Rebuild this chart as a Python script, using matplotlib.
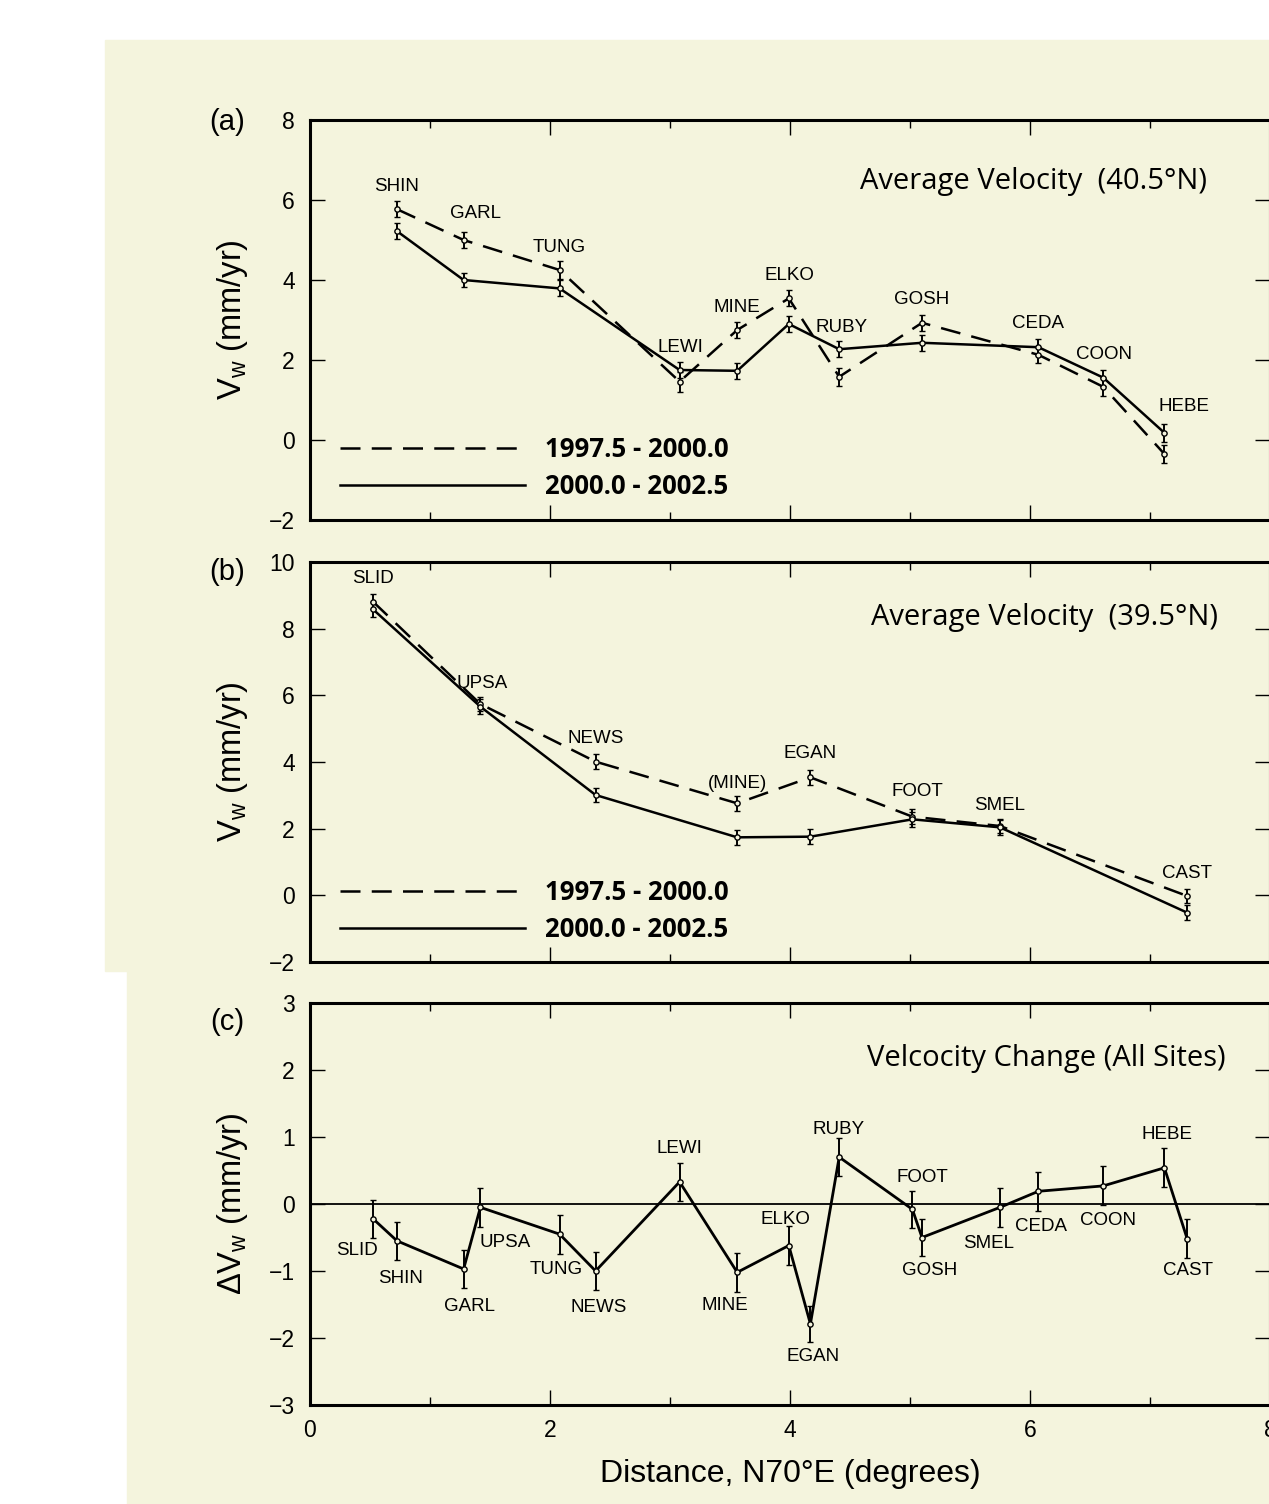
import matplotlib.pyplot as plt
from matplotlib.lines import Line2D
from matplotlib.patches import Rectangle
from matplotlib.ticker import MultipleLocator
import numpy as np

plt.rcParams['font.family'] = ['Liberation Sans', 'DejaVu Sans']
plt.rcParams['mathtext.fontset'] = 'custom'
plt.rcParams['mathtext.rm'] = 'Liberation Sans'
plt.rcParams['mathtext.it'] = 'Liberation Sans:italic'

# ---- panel (a): 40.5N profile ----
sites_a = ['SHIN', 'GARL', 'TUNG', 'LEWI', 'MINE', 'ELKO', 'RUBY', 'GOSH', 'CEDA', 'COON', 'HEBE']
dist_a = [0.725, 1.28, 2.08, 3.08, 3.56, 3.99, 4.41, 5.10, 6.07, 6.61, 7.12]
v1_a = [5.77, 5.00, 4.25, 1.46, 2.75, 3.54, 1.58, 2.93, 2.13, 1.33, -0.35]   # 1997.5-2000.0
v2_a = [5.22, 4.00, 3.79, 1.75, 1.73, 2.90, 2.27, 2.43, 2.32, 1.56, 0.18]    # 2000.0-2002.5
e1_a = [0.20, 0.20, 0.22, 0.25, 0.20, 0.20, 0.22, 0.20, 0.20, 0.22, 0.22]
e2_a = [0.20, 0.18, 0.20, 0.20, 0.20, 0.20, 0.20, 0.20, 0.20, 0.20, 0.22]

# ---- panel (b): 39.5N profile ----
sites_b = ['SLID', 'UPSA', 'NEWS', '(MINE)', 'EGAN', 'FOOT', 'SMEL', 'CAST']
dist_b = [0.525, 1.42, 2.38, 3.56, 4.17, 5.02, 5.75, 7.31]
v1_b = [8.81, 5.74, 4.01, 2.76, 3.54, 2.36, 2.08, -0.02]
v2_b = [8.58, 5.66, 3.01, 1.74, 1.76, 2.28, 2.04, -0.52]
e1_b = [0.22, 0.22, 0.22, 0.22, 0.22, 0.22, 0.22, 0.22]
e2_b = [0.22, 0.22, 0.22, 0.22, 0.22, 0.22, 0.22, 0.22]

# ---- panel (c): velocity change, all sites ----
sites_c = ['SLID', 'SHIN', 'GARL', 'UPSA', 'TUNG', 'NEWS', 'LEWI', 'MINE', 'ELKO',
           'EGAN', 'RUBY', 'FOOT', 'GOSH', 'SMEL', 'CEDA', 'COON', 'HEBE', 'CAST']
dist_c = [0.525, 0.725, 1.28, 1.42, 2.08, 2.38, 3.08, 3.56, 3.99,
          4.17, 4.41, 5.02, 5.10, 5.75, 6.07, 6.61, 7.12, 7.31]
dv_c = [-0.22, -0.55, -0.97, -0.05, -0.45, -1.00, 0.33, -1.02, -0.62,
        -1.79, 0.70, -0.08, -0.50, -0.05, 0.19, 0.27, 0.54, -0.52]
de_c = [0.28, 0.28, 0.29, 0.29, 0.29, 0.29, 0.28, 0.29, 0.29,
        0.27, 0.28, 0.28, 0.28, 0.29, 0.29, 0.29, 0.29, 0.29]

legend_labels = ['1997.5 - 2000.0', '2000.0 - 2002.5']

# label offsets in pixels (layout only)
off_a = [(0, 23), (12, 27), (0, 23), (1, 22), (0, 23), (1, 23), (2, 22), (0, 23), (0, 24), (1, 23), (20, 26)]
off_b = [(0, 23), (2, 20), (0, 23), (0, 20), (0, 24), (5, 25), (0, 21), (0, 22)]
off_c = [(-16, -32), (4, -38), (6, -38), (25, -35), (-3, -35), (3, -36), (0, 33), (-12, -33), (-3, 26),
         (3, -33), (-1, 28), (10, 32), (8, -33), (-11, -36), (3, -35), (5, -35), (3, 33), (1, -32)]

W, H = 1269.0, 1504.0
beige = '#f4f4dd'
LW = 1.8
DASH = (8, 4.5)

fig = plt.figure(figsize=(W / 100, H / 100), dpi=100)
fig.patch.set_facecolor('white')
fig.patches.append(Rectangle((105 / W, 1 - 971 / H), 1 - 105 / W, (971 - 40) / H,
                             transform=fig.transFigure, color=beige, zorder=-10))
fig.patches.append(Rectangle((127 / W, 0), 1 - 127 / W, 1 - 971 / H,
                             transform=fig.transFigure, color=beige, zorder=-10))

ax_a = fig.add_axes([310 / W, 1 - 520 / H, 960 / W, 400 / H])
ax_b = fig.add_axes([310 / W, 1 - 962 / H, 960 / W, 400 / H])
ax_c = fig.add_axes([310 / W, 1 - 1405 / H, 960 / W, 402 / H])


def style(ax, ymin, ymax, ystep):
    ax.set_facecolor('none')
    ax.set_xlim(0, 8)
    ax.set_ylim(ymin, ymax)
    ax.xaxis.set_major_locator(MultipleLocator(2))
    ax.xaxis.set_minor_locator(MultipleLocator(1))
    ax.yaxis.set_major_locator(MultipleLocator(ystep))
    ax.tick_params(which='both', direction='in', top=True, right=True, width=1.0, labelsize=16.5)
    ax.tick_params(axis='y', pad=11)
    ax.tick_params(axis='x', pad=10)
    ax.tick_params(which='major', length=11)
    ax.tick_params(which='minor', length=6)
    for s in ax.spines.values():
        s.set_linewidth(2.2)


def series(ax, x, y, e, dashed):
    if dashed:
        ax.plot(x, y, color='k', lw=LW, dashes=DASH, zorder=2)
    else:
        ax.plot(x, y, color='k', lw=LW, zorder=2)
    ax.errorbar(x, y, yerr=e, fmt='o', color='k', ms=3.8, mfc=beige, mec='k', mew=1.0,
                elinewidth=1.4, capsize=1.9, capthick=1.4, zorder=3)


def labels(ax, names, x, y, offs):
    for n, xi, yi, o in zip(names, x, y, offs):
        ax.annotate(n, (xi, yi), xytext=o, textcoords='offset pixels',
                    ha='center', va='center', fontsize=13.5)


def legend(ax, y0):
    h = [Line2D([], [], color='k', lw=LW, dashes=DASH), Line2D([], [], color='k', lw=LW)]
    ax.legend(h, legend_labels, loc='lower left', bbox_to_anchor=(0.031, y0), frameon=False,
              prop={'family': 'Open Sans', 'weight': 'bold', 'size': 18.5},
              handlelength=7.2, handletextpad=0.78, labelspacing=0.38, borderpad=0, borderaxespad=0)


def ylab(ax, s):
    ax.set_ylabel(s, fontsize=23.5)
    ax.yaxis.set_label_coords(-0.062, 0.5)


# (a)
style(ax_a, -2, 8, 2)
series(ax_a, dist_a, v1_a, e1_a, True)
series(ax_a, dist_a, v2_a, e2_a, False)
labels(ax_a, sites_a, dist_a, np.maximum(v1_a, v2_a), off_a)
legend(ax_a, 0.05)
ax_a.tick_params(labelbottom=False)
ylab(ax_a, r'V$_\mathrm{w}$ (mm/yr)')
ax_a.text(0.934, 0.8475, 'Average Velocity  (40.5°N)', transform=ax_a.transAxes,
          ha='right', va='center', fontsize=21, family='Open Sans')

# (b)
style(ax_b, -2, 10, 2)
series(ax_b, dist_b, v1_b, e1_b, True)
series(ax_b, dist_b, v2_b, e2_b, False)
labels(ax_b, sites_b, dist_b, np.maximum(v1_b, v2_b), off_b)
legend(ax_b, 0.048)
ax_b.tick_params(labelbottom=False)
ylab(ax_b, r'V$_\mathrm{w}$ (mm/yr)')
ax_b.text(0.946, 0.8625, 'Average Velocity  (39.5°N)', transform=ax_b.transAxes,
          ha='right', va='center', fontsize=21, family='Open Sans')

# (c)
style(ax_c, -3, 3, 1)
ax_c.axhline(0, color='k', lw=1.3, zorder=1)
ax_c.plot(dist_c, dv_c, color='k', lw=2.0, zorder=2)
ax_c.errorbar(dist_c, dv_c, yerr=de_c, fmt='o', color='k', ms=3.8, mfc=beige, mec='k', mew=1.0,
              elinewidth=1.4, capsize=1.9, capthick=1.4, zorder=3)
labels(ax_c, sites_c, dist_c, dv_c, off_c)
ylab(ax_c, 'ΔV$_\\mathrm{w}$ (mm/yr)')
ax_c.set_xlabel('Distance, N70°E (degrees)', fontsize=23)
ax_c.xaxis.set_label_coords(0.5, -0.135)
ax_c.text(0.954, 0.863, 'Velcocity Change (All Sites)', transform=ax_c.transAxes,
          ha='right', va='center', fontsize=21, family='Open Sans')

for lab, py in [('(a)', 122), ('(b)', 572), ('(c)', 1022)]:
    fig.text(227 / W, 1 - py / H, lab, ha='center', va='center', fontsize=21)

fig.savefig('out.png', dpi=100, facecolor=fig.get_facecolor())
